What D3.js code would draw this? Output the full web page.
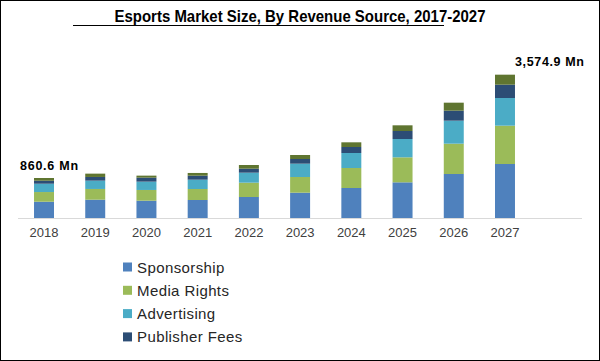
<!DOCTYPE html>
<html>
<head>
<meta charset="utf-8">
<script src="https://cdn.jsdelivr.net/npm/d3@7"></script>
<style>
  html, body { margin: 0; padding: 0; background: #fff; }
  svg { display: block; }
</style>
</head>
<body>
<svg id="chart" width="600" height="361"></svg>
<script>
// ---- data ----
const years = ["2018","2019","2020","2021","2022","2023","2024","2025","2026","2027"];
const seriesNames = ["Sponsorship","Media Rights","Advertising","Publisher Fees","Others"];
const sponsorship   = [407, 458, 433, 450, 525, 633, 750, 892, 1100, 1350];
const mediaRights   = [242, 268, 268, 275, 358, 392, 500, 625, 758, 958];
const advertising   = [208, 208, 208, 233, 250, 333, 375, 458, 575, 692];
const publisherFees = [75, 92, 100, 100, 100, 117, 150, 200, 250, 333];
const others        = [68, 83, 50, 68, 92, 100, 117, 142, 200, 250];
const legendKeys = ["Sponsorship","Media Rights","Advertising","Publisher Fees"];
const endLabels = [{year: "2018", text: "860.6 Mn"}, {year: "2027", text: "3,574.9 Mn"}];
const titleText = "Esports Market Size, By Revenue Source, 2017-2027";

const colors = ["#4F81BD", "#9BBB59", "#4BACC6", "#2C4D75", "#5F7530"];

// ---- build table ----
const rows = years.map((y, i) => ({
  year: y,
  "Sponsorship": sponsorship[i],
  "Media Rights": mediaRights[i],
  "Advertising": advertising[i],
  "Publisher Fees": publisherFees[i],
  "Others": others[i]
}));
const stacked = d3.stack().keys(seriesNames)(rows);

const svg = d3.select("#chart");
const W = 600, H = 361;

// frame
svg.append("rect").attr("x", 0.5).attr("y", 0.5).attr("width", W - 1).attr("height", H - 1)
  .attr("fill", "#fff").attr("stroke", "#000").attr("stroke-width", 1);

// title
const title = svg.append("text")
  .attr("x", 300).attr("y", 22)
  .attr("text-anchor", "middle")
  .attr("font-family", "Liberation Sans, Arial, sans-serif")
  .attr("font-weight", "bold")
  .attr("font-size", 17)
  .attr("fill", "#000")
  .attr("textLength", 371)
  .attr("lengthAdjust", "spacingAndGlyphs")
  .text(titleText);
svg.append("line").attr("x1", 73).attr("x2", 444).attr("y1", 25.5).attr("y2", 25.5)
  .attr("stroke", "#000").attr("stroke-width", 1.2);

// scales
const x = d3.scaleBand().domain(years).range([18.4, 530.6]).paddingInner(0.61).paddingOuter(0.305);
const y = d3.scaleLinear().domain([0, 4000]).range([218, 58]);

// bars
svg.append("g").selectAll("g").data(stacked).join("g")
  .attr("fill", (d, i) => colors[i])
  .selectAll("rect").data(d => d).join("rect")
  .attr("x", d => x(d.data.year))
  .attr("width", x.bandwidth())
  .attr("y", d => y(d[1]))
  .attr("height", d => y(d[0]) - y(d[1]));

// x axis
const xAxis = svg.append("g").attr("transform", "translate(0,218)")
  .call(d3.axisBottom(x).tickSize(0).tickPadding(10));
xAxis.select(".domain").remove();
xAxis.selectAll("text")
  .attr("font-family", "Liberation Sans, Arial, sans-serif")
  .attr("font-size", 13)
  .attr("fill", "#404040");
svg.append("line").attr("x1", 18).attr("x2", 582).attr("y1", 218.5).attr("y2", 218.5)
  .attr("stroke", "#d9d9d9").attr("stroke-width", 1);

// end labels
const totals = {};
rows.forEach(r => { totals[r.year] = d3.sum(seriesNames, k => r[k]); });
svg.append("g").selectAll("text").data(endLabels).join("text")
  .attr("x", d => d.year === "2018" ? x(d.year) - 14 : x(d.year) + 20)
  .attr("y", d => y(totals[d.year]) - (d.year === "2018" ? 8 : 9))
  .attr("font-family", "Liberation Sans, Arial, sans-serif")
  .attr("font-weight", "bold")
  .attr("font-size", 12.5)
  .attr("fill", "#000")
  .attr("textLength", d => d.year === "2018" ? 58 : 69)
  .attr("lengthAdjust", "spacing")
  .text(d => d.text);

// legend
const lg = svg.append("g").selectAll("g").data(legendKeys).join("g")
  .attr("transform", (d, i) => `translate(123,${267 + i * 23.3})`);
lg.append("rect").attr("x", 0).attr("y", -4.5).attr("width", 9).attr("height", 9)
  .attr("fill", d => colors[seriesNames.indexOf(d)]);
lg.append("text").attr("x", 14).attr("y", 5.5)
  .attr("font-family", "Liberation Sans, Arial, sans-serif")
  .attr("font-size", 15)
  .attr("letter-spacing", 0.4)
  .attr("fill", "#262626")
  .text(d => d);
</script>
</body>
</html>
